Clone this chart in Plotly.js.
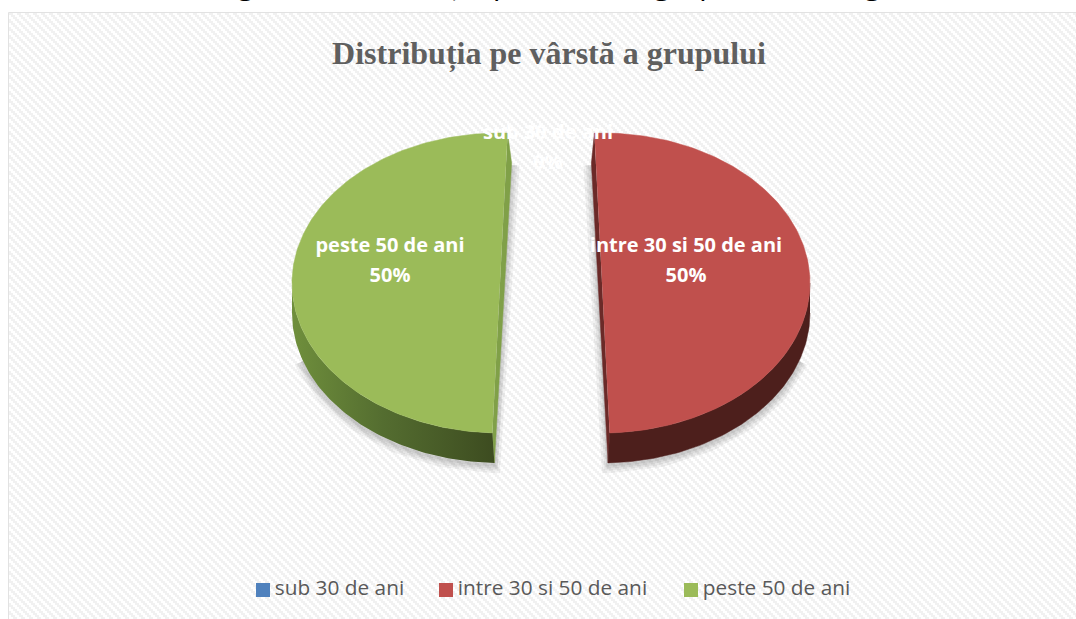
<!DOCTYPE html>
<html>
<head>
<meta charset="utf-8">
<script src="https://cdn.plot.ly/plotly-3.0.1.min.js"></script>
<style>html,body{margin:0;padding:0;background:#fff;overflow:hidden}#chart{width:1076px;height:619px}</style>
</head>
<body>
<div id="chart"></div>
<script>
// ---- data ----
const categories = ['sub 30 de ani', 'intre 30 si 50 de ani', 'peste 50 de ani'];
const percents = [0, 50, 50];
const colors = ['#4f81bd', '#c0504d', '#9bbb59'];
const chartTitle = 'Distribuția pe vârstă a grupului';
const captionAbove = 'Figura 2. Distribuția pe vârstă a grupului investigat';

// ---- styling / placement ----
const centerX = [550, 602, 500];
const centerY = 283;
const radiusX = 208, radiusY = 150, depth = 30;
const tilt = [0, -2.1, 2.1];
const cutShift = [0, -3, 4];
const labelX = [548, 686, 390];
const labelY = [148, 261, 261];
const legendMarkX = [263, 446, 691];
const legendY = 590;
const shadowStop = [0, 108, 252];
const rimFill = [
  null,
  {solid: '#4d1f1c'},
  {scale: [[0, '#6f8f3c'], [0.45, '#546d30'], [1, '#3d4c20']]}
];
const cutColor = [null, '#6b2a28', '#80a048'];

const rad = d => d * Math.PI / 180;
const px = (i, t) => centerX[i] + radiusX * Math.sin(rad(t));
const py = (i, t) => centerY - radiusY * Math.cos(rad(t));
function arc(i, a, b) {
  const xs = [], ys = [], n = Math.max(1, Math.ceil(Math.abs(b - a)));
  for (let k = 0; k <= n; k++) { const t = a + (b - a) * k / n; xs.push(px(i, t)); ys.push(py(i, t)); }
  return {xs, ys};
}

const total = percents.reduce((s, v) => s + v, 0);
const under = [], faces = [], texts = [];
let cum = 0;
categories.forEach((name, i) => {
  const a0 = cum / total * 360 + tilt[i];
  const a1 = (cum + percents[i]) / total * 360 + tilt[i];
  cum += percents[i];
  if (percents[i] > 0) {
    const isRight = a0 < 90;
    const topT = isRight ? a0 : a1, botT = isRight ? a1 : a0;
    const cutTopX = px(i, topT) + cutShift[i];
    const cutBotX = px(i, botT) + cutShift[i] * 0.5;

    // soft shadow along the lower outline and the cut edge
    const sx = [cutTopX, cutBotX];
    const sy = [py(i, topT) + depth, py(i, botT) + depth];
    const low = isRight ? arc(i, a1, shadowStop[i]) : arc(i, a0, shadowStop[i]);
    low.xs.forEach((x, k) => { sx.push(x); sy.push(low.ys[k] + depth); });
    [16, 11, 7, 3].forEach(w => under.push({
      type: 'scatter', mode: 'lines', x: sx, y: sy.map(v => v + 2), showlegend: false, hoverinfo: 'skip',
      line: {color: 'rgba(0,0,0,0.05)', width: w}
    }));

    // cut wall
    under.push({
      type: 'scatter', mode: 'lines', fill: 'toself', showlegend: false, hoverinfo: 'skip',
      x: [px(i, topT), cutTopX, cutBotX, px(i, botT)],
      y: [py(i, topT), py(i, topT) + depth, py(i, botT) + depth, py(i, botT)],
      fillcolor: cutColor[i], line: {color: cutColor[i], width: 0.5}
    });

    // outer wall, running to the foot of the cut wall
    const rim = isRight ? arc(i, 90, a1) : arc(i, a0, 270);
    const upperX = rim.xs.slice(), upperY = rim.ys.slice();
    const lowerX = rim.xs.slice(), lowerY = rim.ys.map(v => v + depth);
    if (isRight) lowerX[lowerX.length - 1] = cutBotX; else lowerX[0] = cutBotX;
    const wall = {
      type: 'scatter', mode: 'lines', fill: 'toself', showlegend: false, hoverinfo: 'skip',
      x: upperX.concat(lowerX.reverse()), y: upperY.concat(lowerY.reverse())
    };
    if (rimFill[i].solid) {
      wall.fillcolor = rimFill[i].solid; wall.line = {color: rimFill[i].solid, width: 0.5};
    } else {
      wall.fillgradient = {type: 'horizontal', colorscale: rimFill[i].scale};
      wall.line = {width: 0};
    }
    under.push(wall);

    // top face
    const top = arc(i, a0, a1);
    faces.push({
      type: 'scatter', mode: 'lines', fill: 'toself', name: name, showlegend: false,
      x: top.xs, y: top.ys, fillcolor: colors[i], line: {color: colors[i], width: 0.5},
      hoverinfo: 'text', text: name + ': ' + percents[i] + '%', hoveron: 'fills'
    });
  }
  // data label
  texts.push({
    type: 'scatter', mode: 'text', showlegend: false, hoverinfo: 'skip', cliponaxis: false,
    x: [labelX[i], labelX[i]], y: [labelY[i] - 14, labelY[i] + 16],
    text: [name, percents[i] + '%'],
    textposition: 'middle center',
    textfont: {family: 'Open Sans', size: 20, color: '#ffffff', weight: 700}
  });
  // legend entry
  texts.push({
    type: 'scatter', mode: 'markers+text', name: name, showlegend: false, hoverinfo: 'name',
    x: [legendMarkX[i]], y: [legendY], text: ['\u200a' + name], textposition: 'middle right',
    marker: {symbol: 'square', size: 14, color: colors[i]},
    textfont: {family: 'Open Sans', size: 20.8, color: '#595959'}
  });
});

// hatched backdrop
const cv = document.createElement('canvas');
cv.width = 1076; cv.height = 619;
const ctx = cv.getContext('2d');
ctx.fillStyle = '#ffffff'; ctx.fillRect(0, 0, 1076, 619);
ctx.fillStyle = '#f1f1f1';
for (let y = 0; y < 619; y += 2) for (let x = 0; x < 1076; x += 2) {
  if (((x - y) % 8 + 8) % 8 < 4) ctx.fillRect(x, y, 2, 2);
}

const layout = {
  width: 1076, height: 619,
  margin: {l: 0, r: 0, t: 0, b: 0},
  paper_bgcolor: '#ffffff', plot_bgcolor: 'rgba(0,0,0,0)',
  showlegend: false,
  hovermode: 'closest',
  title: {
    text: chartTitle, x: 549 / 1076, xanchor: 'center', y: 1 - 53 / 619, yanchor: 'middle',
    font: {family: 'Liberation Serif', size: 32, color: '#5f5f5f', weight: 700}
  },
  xaxis: {range: [0, 1076], visible: false, fixedrange: true},
  yaxis: {range: [619, 0], visible: false, fixedrange: true},
  images: [{
    source: cv.toDataURL('image/png'), xref: 'x', yref: 'y', x: 9, y: 13,
    sizex: 1076, sizey: 619, sizing: 'stretch', xanchor: 'left', yanchor: 'top', layer: 'below'
  }],
  shapes: [
    {type: 'rect', layer: 'below', xref: 'x', yref: 'y', x0: 9, y0: 13, x1: 1090, y1: 640,
     line: {color: '#d9d9d9', width: 1.5}, fillcolor: 'rgba(0,0,0,0)'},
    {type: 'rect', layer: 'below', xref: 'x', yref: 'y', x0: 220, y0: 567, x1: 877, y1: 612,
     line: {width: 0}, fillcolor: '#fefefe'}
  ],
  annotations: [{
    text: captionAbove, xref: 'paper', yref: 'paper', x: 0.525, y: 1, xanchor: 'center', yanchor: 'bottom',
    yshift: -5, showarrow: false, font: {family: 'Open Sans', size: 31, color: '#000000', style: 'italic'}
  }]
};

Plotly.newPlot('chart', under.concat(faces, texts), layout, {displayModeBar: false, responsive: false});
</script>
</body>
</html>
